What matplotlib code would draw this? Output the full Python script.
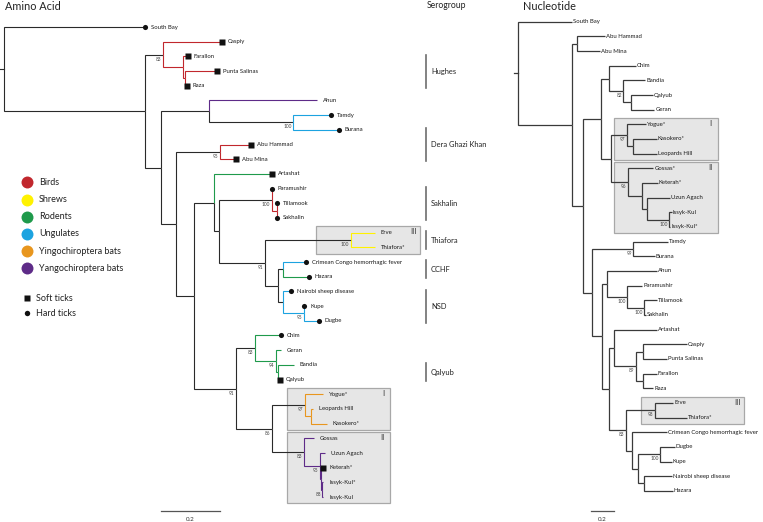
import matplotlib
matplotlib.use("Agg")
import matplotlib.pyplot as plt
from matplotlib.patches import Rectangle

plt.rcParams["font.family"] = ["Lato", "DejaVu Sans"]

W, H = 763, 522

HOSTS = ["Birds", "Shrews", "Rodents", "Ungulates", "Yingochiroptera bats", "Yangochiroptera bats"]
HOST_COLORS = ["#c1272d", "#fff200", "#1f9a4b", "#1ca3e0", "#e8961e", "#5e2b88"]
TICK_TYPES = ["Soft ticks", "Hard ticks"]
TICK_MARKERS = ["s", "o"]

# ---- Amino acid tree: child -> parent (depth-first order), distance from root (subst./site)
AA_PARENT = {
    "South Bay": "root", "a": "root",
    "h1": "a", "Caspiy": "h1", "h2": "h1", "Farallon": "h2", "h3": "h2",
    "Punta Salinas": "h3", "Raza": "h3",
    "b": "a", "c": "b", "Ahun": "c", "d": "c", "Tamdy": "d", "Burana": "d",
    "e": "b", "ab": "e", "Abu Hammad": "ab", "Abu Mina": "ab",
    "f": "e", "g": "f", "Artashat": "g", "hn": "g",
    "s1": "hn", "Paramushir": "s1", "s2": "s1", "Tillamook": "s2", "Sakhalin": "s2",
    "i": "hn", "th": "i", "Erve": "th", "Thiafora*": "th",
    "j": "i", "cc": "j", "Crimean Congo hemorrhagic fever": "cc", "Hazara": "cc",
    "nsd": "j", "Nairobi sheep disease": "nsd", "kd": "nsd", "Kupe": "kd", "Dugbe": "kd",
    "k": "f", "q1": "k", "Chim": "q1", "q2": "q1", "Geran": "q2", "q3": "q2",
    "Bandia": "q3", "Qalyub": "q3",
    "l": "k", "y1": "l", "Yogue*": "y1", "y2": "y1", "Leopards Hill": "y2", "Kasokero*": "y2",
    "g1": "l", "Gossas": "g1", "g2": "g1", "Uzun Agach": "g2", "g3": "g2",
    "Keterah*": "g3", "g4": "g3", "Issyk-Kul*": "g4", "Issyk-Kul": "g4",
}
AA_DEPTH = {
    "root": 0.0, "South Bay": 0.478, "a": 0.478,
    "h1": 0.539, "Caspiy": 0.739, "h2": 0.607, "Farallon": 0.624, "h3": 0.614,
    "Punta Salinas": 0.722, "Raza": 0.620,
    "b": 0.532, "c": 0.695, "Ahun": 1.061, "d": 0.980, "Tamdy": 1.108, "Burana": 1.136,
    "e": 0.583, "ab": 0.732, "Abu Hammad": 0.837, "Abu Mina": 0.786,
    "f": 0.644, "g": 0.712, "Artashat": 0.908, "hn": 0.729,
    "s1": 0.908, "Paramushir": 0.909, "s2": 0.925, "Tillamook": 0.927, "Sakhalin": 0.926,
    "i": 0.885, "th": 1.176, "Erve": 1.258, "Thiafora*": 1.258,
    "j": 0.929, "cc": 0.947, "Crimean Congo hemorrhagic fever": 1.024, "Hazara": 1.034,
    "nsd": 0.947, "Nairobi sheep disease": 0.973, "kd": 1.017, "Kupe": 1.018, "Dugbe": 1.068,
    "k": 0.786, "q1": 0.851, "Chim": 0.939, "q2": 0.921, "Geran": 0.939, "q3": 0.928,
    "Bandia": 0.983, "Qalyub": 0.936,
    "l": 0.908, "y1": 1.020, "Yogue*": 1.081, "y2": 1.041, "Leopards Hill": 1.047, "Kasokero*": 1.095,
    "g1": 1.017, "Gossas": 1.051, "g2": 1.071, "Uzun Agach": 1.088, "g3": 1.074,
    "Keterah*": 1.083, "g4": 1.079, "Issyk-Kul*": 1.083, "Issyk-Kul": 1.083,
}
AA_HOST = {
    "Caspiy": "Birds", "h2": "Birds", "Farallon": "Birds", "h3": "Birds", "Punta Salinas": "Birds",
    "Raza": "Birds", "Abu Hammad": "Birds", "Abu Mina": "Birds", "Paramushir": "Birds",
    "s2": "Birds", "Tillamook": "Birds", "Sakhalin": "Birds",
    "Erve": "Shrews", "Thiafora*": "Shrews",
    "Artashat": "Rodents", "Hazara": "Rodents", "Chim": "Rodents", "q2": "Rodents",
    "Geran": "Rodents", "q3": "Rodents", "Bandia": "Rodents", "Qalyub": "Rodents",
    "Tamdy": "Ungulates", "Burana": "Ungulates", "Crimean Congo hemorrhagic fever": "Ungulates",
    "Nairobi sheep disease": "Ungulates", "kd": "Ungulates", "Kupe": "Ungulates", "Dugbe": "Ungulates",
    "Yogue*": "Yingochiroptera bats", "y2": "Yingochiroptera bats",
    "Leopards Hill": "Yingochiroptera bats", "Kasokero*": "Yingochiroptera bats",
    "Ahun": "Yangochiroptera bats", "Gossas": "Yangochiroptera bats", "g2": "Yangochiroptera bats",
    "Uzun Agach": "Yangochiroptera bats", "g3": "Yangochiroptera bats",
    "Keterah*": "Yangochiroptera bats", "g4": "Yangochiroptera bats",
    "Issyk-Kul*": "Yangochiroptera bats", "Issyk-Kul": "Yangochiroptera bats",
}
AA_TICK = {
    "South Bay": "Hard ticks", "Caspiy": "Soft ticks", "Farallon": "Soft ticks",
    "Punta Salinas": "Soft ticks", "Raza": "Soft ticks", "Tamdy": "Hard ticks", "Burana": "Hard ticks",
    "Abu Hammad": "Soft ticks", "Abu Mina": "Soft ticks", "Artashat": "Soft ticks",
    "Paramushir": "Hard ticks", "Tillamook": "Hard ticks", "Sakhalin": "Hard ticks",
    "Crimean Congo hemorrhagic fever": "Hard ticks", "Hazara": "Hard ticks",
    "Nairobi sheep disease": "Hard ticks", "Kupe": "Hard ticks", "Dugbe": "Hard ticks",
    "Chim": "Hard ticks", "Qalyub": "Soft ticks", "Keterah*": "Soft ticks",
}
AA_SUPPORT = {"h1": 83, "d": 100, "ab": 95, "s1": 100, "th": 100, "i": 91, "kd": 95,
              "q1": 83, "q2": 94, "k": 91, "l": 86, "y1": 97, "g1": 83, "g2": 95, "g4": 88}
AA_BOXES = [("III", "Erve", "Thiafora*"), ("I", "Yogue*", "Kasokero*"), ("II", "Gossas", "Issyk-Kul")]

SEROGROUPS = ["Hughes", "Dera Ghazi Khan", "Sakhalin", "Thiafora", "CCHF", "NSD", "Qalyub"]
SERO_TIPS = [("Farallon", "Raza"), ("Burana", "Abu Mina"), ("Paramushir", "Sakhalin"),
             ("Erve", "Thiafora*"), ("Crimean Congo hemorrhagic fever", "Hazara"),
             ("Nairobi sheep disease", "Dugbe"), ("Bandia", "Qalyub")]

# ---- Nucleotide tree
NT_PARENT = {
    "South Bay": "root", "r1": "root",
    "ab": "r1", "Abu Hammad": "ab", "Abu Mina": "ab",
    "r2": "r1", "r3": "r2",
    "ch1": "r3", "Chim": "ch1", "ch2": "ch1", "Bandia": "ch2", "ch3": "ch2",
    "Qalyub": "ch3", "Geran": "ch3",
    "yg": "r3", "y1": "yg", "Yogue*": "y1", "y2": "y1", "Kasokero*": "y2", "Leopards Hill": "y2",
    "g1": "yg", "Gossas*": "g1", "g2": "g1", "Keterah*": "g2", "g3": "g2", "Uzun Agach": "g3",
    "g4": "g3", "Issyk-Kul": "g4", "Issyk-Kul*": "g4",
    "r4": "r2", "tb": "r4", "Tamdy": "tb", "Burana": "tb",
    "r5": "r4", "r6": "r5", "Ahun": "r6", "p1": "r6", "Paramushir": "p1", "p2": "p1",
    "Tillamook": "p2", "Sakhalin": "p2",
    "r7": "r5", "a1": "r7", "Artashat": "a1", "hu": "a1", "cp": "hu", "Caspiy": "cp",
    "Punta Salinas": "cp", "fr": "hu", "Farallon": "fr", "Raza": "fr",
    "t": "r7", "th": "t", "Erve": "th", "Thiafora*": "th",
    "u": "t", "Crimean Congo hemorrhagic fever": "u", "v": "u",
    "dk": "v", "Dugbe": "dk", "Kupe": "dk",
    "nh": "v", "Nairobi sheep disease": "nh", "Hazara": "nh",
}
NT_DEPTH = {
    "root": 0.0, "South Bay": 0.458, "r1": 0.458,
    "ab": 0.506, "Abu Hammad": 0.744, "Abu Mina": 0.701,
    "r2": 0.558, "r3": 0.710,
    "ch1": 0.781, "Chim": 1.008, "ch2": 0.901, "Bandia": 1.088, "ch3": 0.965,
    "Qalyub": 1.154, "Geran": 1.167,
    "yg": 0.793, "y1": 0.930, "Yogue*": 1.094, "y2": 0.982, "Kasokero*": 1.188, "Leopards Hill": 1.188,
    "g1": 0.939, "Gossas*": 1.159, "g2": 1.059, "Keterah*": 1.199, "g3": 1.107, "Uzun Agach": 1.302,
    "g4": 1.294, "Issyk-Kul": 1.317, "Issyk-Kul*": 1.306,
    "r4": 0.630, "tb": 0.987, "Tamdy": 1.288, "Burana": 1.173,
    "r5": 0.716, "r6": 0.759, "Ahun": 1.188, "p1": 0.936, "Paramushir": 1.064, "p2": 1.082,
    "Tillamook": 1.188, "Sakhalin": 1.094,
    "r7": 0.779, "a1": 0.821, "Artashat": 1.188, "hu": 1.008, "cp": 1.068, "Caspiy": 1.446,
    "Punta Salinas": 1.274, "fr": 1.068, "Farallon": 1.188, "Raza": 1.159,
    "t": 0.922, "th": 1.173, "Erve": 1.330, "Thiafora*": 1.446,
    "u": 0.973, "Crimean Congo hemorrhagic fever": 1.274, "v": 1.025,
    "dk": 1.216, "Dugbe": 1.345, "Kupe": 1.317,
    "nh": 1.079, "Nairobi sheep disease": 1.317, "Hazara": 1.325,
}
NT_SUPPORT = {"ch2": 82, "y1": 97, "g1": 96, "g4": 100, "tb": 99, "p1": 100, "p2": 100,
              "hu": 89, "th": 98, "t": 83, "dk": 100}
NT_BOXES = [("I", "Yogue*", "Leopards Hill"), ("II", "Gossas*", "Issyk-Kul*"), ("III", "Erve", "Thiafora*")]

SCALE_LEN = 0.2

HOST_COLOR = dict(zip(HOSTS, HOST_COLORS))
TICK_MARKER = dict(zip(TICK_TYPES, TICK_MARKERS))
PX = 0.72  # points per pixel at dpi 100


def layout(parent):
    kids = {"root": []}
    for n, p in parent.items():
        kids.setdefault(n, [])
        kids[p].append(n)
    y, count = {}, [0]

    def visit(n):
        if not kids[n]:
            y[n] = count[0]
            count[0] += 1
        else:
            for c in kids[n]:
                visit(c)
            y[n] = 0.5 * (y[kids[n][0]] + y[kids[n][-1]])
    visit("root")
    return kids, y


def tree_axes(fig, x0_px, px_unit, y0_px, px_tip):
    ax = fig.add_axes([0, 0, 1, 1])
    ax.set_xlim(-x0_px / px_unit, (W - x0_px) / px_unit)
    ax.set_ylim((H - y0_px) / px_tip, -y0_px / px_tip)
    ax.axis("off")
    ax.patch.set_visible(False)
    return ax


def draw_tree(ax, parent, depth, host, tick, support, base, lw, gap_px, px_unit):
    kids, y = layout(parent)
    for n, p in parent.items():
        c = HOST_COLOR.get(host.get(n), base)
        ax.plot([depth[p], depth[p], depth[n]], [y[p], y[n], y[n]], color=c, lw=lw,
                solid_joinstyle="miter", solid_capstyle="butt", zorder=2)
    ax.plot([-4 / px_unit, 0], [y["root"]] * 2, color=base, lw=lw, zorder=2)
    for n in parent:
        if kids[n]:
            continue
        m = tick.get(n)
        if m:
            ax.plot(depth[n], y[n], marker=TICK_MARKER[m], ms=3.7, color="#111111",
                    mec="none", zorder=3)
        ax.annotate(n, (depth[n], y[n]), xytext=(gap_px * PX, 0), textcoords="offset points",
                    ha="left", va="center", fontsize=4.3, color="#1a1a1a", zorder=4)
    for n, s in support.items():
        ax.annotate(str(s), (depth[n], y[n]), xytext=(-1.5 * PX, -4.5 * PX),
                    textcoords="offset points", ha="right", va="center", fontsize=3.4,
                    color="#444444", zorder=4)
    return y


def draw_boxes(ax, boxes, xspans, y, pad=0.43):
    for (num, first, last), (x0, x1) in zip(boxes, xspans):
        top, bot = y[first] - pad, y[last] + pad
        ax.add_patch(Rectangle((x0, top), x1 - x0, bot - top, facecolor="#e6e6e6",
                               edgecolor="#a8a8a8", lw=0.9, zorder=0))
        ax.annotate(num, (x1, top), xytext=(-7 * PX, -5.5 * PX), textcoords="offset points",
                    ha="center", va="center", fontsize=5.5, color="#333333", zorder=4)


def draw_scale(ax, x0, yv):
    ax.plot([x0, x0 + SCALE_LEN], [yv, yv], color="#555555", lw=0.9)
    ax.annotate(f"{SCALE_LEN:g}", (x0 + SCALE_LEN / 2, yv), xytext=(0, -8.5 * PX),
                textcoords="offset points", ha="center", va="center", fontsize=4.5, color="#333333")


fig = plt.figure(figsize=(W / 100, H / 100), dpi=100)

# left tree: amino acid
AA_UNIT, AA_TIP = 295.0, 14.69
ax_aa = tree_axes(fig, 4, AA_UNIT, 27, AA_TIP)
y_aa = draw_tree(ax_aa, AA_PARENT, AA_DEPTH, AA_HOST, AA_TICK, AA_SUPPORT,
                 "#2a2a2a", 0.8, 5.8, AA_UNIT)
draw_boxes(ax_aa, AA_BOXES, [(1.058, 1.410), (0.958, 1.308), (0.958, 1.308)], y_aa)
draw_scale(ax_aa, 0.532, (510.7 - 27) / AA_TIP)

# serogroup bars
bar_x = (426 - 4) / AA_UNIT
for name, (first, last) in zip(SEROGROUPS, SERO_TIPS):
    y0, y1 = y_aa[first] - 0.12, y_aa[last] + 0.12
    ax_aa.plot([bar_x, bar_x], [y0, y1], color="#6d6d6d", lw=1.2)
    ax_aa.annotate(name, (bar_x, (y0 + y1) / 2), xytext=(5 * PX, 0), textcoords="offset points",
                   ha="left", va="center", fontsize=5.4, color="#222222")

# right tree: nucleotide
NT_UNIT, NT_TIP = 116.5, 14.66
ax_nt = tree_axes(fig, 518.3, NT_UNIT, 21.7, NT_TIP)
y_nt = draw_tree(ax_nt, NT_PARENT, NT_DEPTH, {}, {}, NT_SUPPORT, "#3a3a3a", 0.9, 1.0, NT_UNIT)
draw_boxes(ax_nt, NT_BOXES, [(0.824, 1.712), (0.824, 1.712), (1.051, 1.940)], y_nt)
draw_scale(ax_nt, 0.621, (510.7 - 21.7) / NT_TIP)

# legend (pixel coordinates)
ax_lg = fig.add_axes([0, 0, 1, 1])
ax_lg.set_xlim(0, W)
ax_lg.set_ylim(H, 0)
ax_lg.axis("off")
ax_lg.patch.set_visible(False)
for i, (hname, hcol) in enumerate(zip(HOSTS, HOST_COLORS)):
    yy = 182.3 + 17.2 * i
    ax_lg.plot(27.3, yy, "o", ms=8.6, color=hcol, mec="none")
    ax_lg.text(39, yy, hname, ha="left", va="center", fontsize=6.5, color="#222222")
for i, (tname, tm) in enumerate(zip(TICK_TYPES, TICK_MARKERS)):
    yy = 298.3 + 15 * i
    ax_lg.plot(27.3, yy, tm, ms=3.9, color="#111111", mec="none")
    ax_lg.text(35.7, yy, tname, ha="left", va="center", fontsize=6.5, color="#222222")

ax_lg.text(5, 6, "Amino Acid", ha="left", va="center", fontsize=7.8, color="#222222")
ax_lg.text(426.5, 5, "Serogroup", ha="left", va="center", fontsize=6.2, color="#222222")
ax_lg.text(523.3, 6, "Nucleotide", ha="left", va="center", fontsize=7.8, color="#222222")

fig.savefig("out.png", dpi=100)
